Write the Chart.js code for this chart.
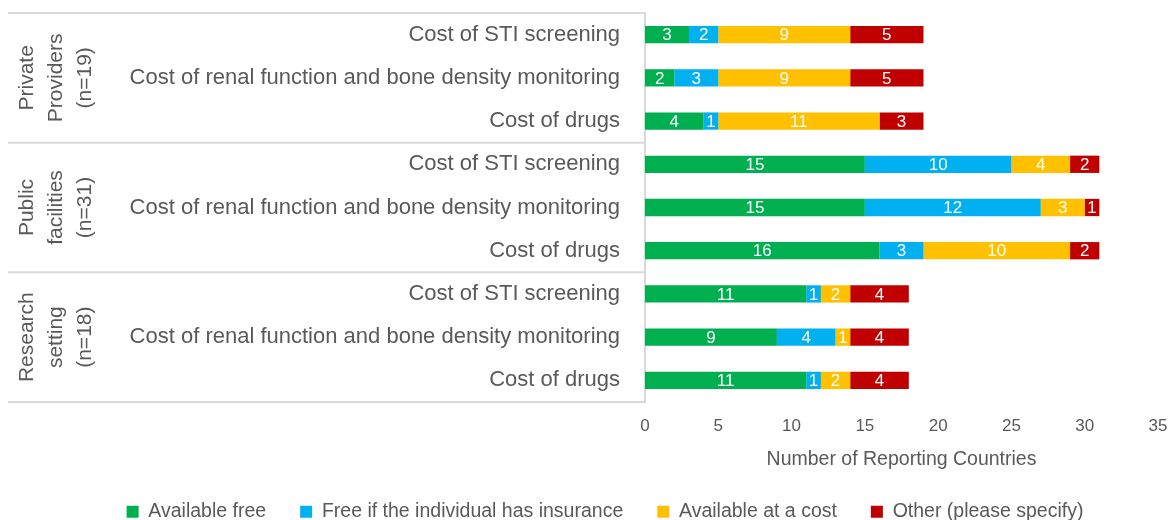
<!DOCTYPE html>
<html>
<head>
<meta charset="utf-8">
<script src="https://cdn.jsdelivr.net/npm/chart.js@4.4.1/dist/chart.umd.min.js"></script>
<style>
  html, body { margin: 0; padding: 0; background: #fff; }
</style>
</head>
<body>
<canvas id="canvas1" width="1168" height="520"></canvas>
<script>
var categories = [
  "Cost of STI screening",
  "Cost of renal function and bone density monitoring",
  "Cost of drugs",
  "Cost of STI screening",
  "Cost of renal function and bone density monitoring",
  "Cost of drugs",
  "Cost of STI screening",
  "Cost of renal function and bone density monitoring",
  "Cost of drugs"
];
var groups = [
  ["Private", "Providers", "(n=19)"],
  ["Public", "facilities", "(n=31)"],
  ["Research", "setting", "(n=18)"]
];
var groupSize = [3, 3, 3];

var availableFree = [3, 2, 4, 15, 15, 16, 11, 9, 11];
var freeInsurance = [2, 3, 1, 10, 12, 3, 1, 4, 1];
var availableCost = [9, 9, 11, 4, 3, 10, 2, 1, 2];
var otherSpecify = [5, 5, 3, 2, 1, 2, 4, 4, 4];

var xTicks = [0, 5, 10, 15, 20, 25, 30, 35];

var grey = "#595959";
var lineGrey = "#d9d9d9";
var FONT = "'Liberation Sans', Arial, sans-serif";

// white numbers inside each segment
var barLabels = {
  id: 'barLabels',
  afterDatasetsDraw: function(chart) {
    var ctx = chart.ctx;
    ctx.save();
    ctx.fillStyle = "#fff";
    ctx.font = "17px " + FONT;
    ctx.textAlign = "center";
    ctx.textBaseline = "middle";
    chart.data.datasets.forEach(function(ds, i) {
      chart.getDatasetMeta(i).data.forEach(function(bar, j) {
        var v = ds.data[j];
        if (!v) return;
        ctx.fillText(v, (bar.x + bar.base) / 2, bar.y + 1);
      });
    });
    ctx.restore();
  }
};

// group brackets and rotated group names on the left
var groupBox = {
  id: 'groupBox',
  afterDraw: function(chart) {
    var ctx = chart.ctx;
    var ys = chart.scales.y;
    var step = ys.getPixelForValue(1) - ys.getPixelForValue(0);
    var left = 8, right = chart.chartArea.left;
    ctx.save();
    ctx.strokeStyle = lineGrey;
    ctx.lineWidth = 2;
    var start = 0;
    var edges = [ys.getPixelForValue(0) - step / 2];
    groupSize.forEach(function(n) {
      start += n;
      edges.push(ys.getPixelForValue(start - 1) + step / 2);
    });
    edges.forEach(function(y) {
      ctx.beginPath();
      ctx.moveTo(left, y);
      ctx.lineTo(right, y);
      ctx.stroke();
    });
    ctx.fillStyle = grey;
    ctx.font = "21px " + FONT;
    ctx.textAlign = "center";
    ctx.textBaseline = "alphabetic";
    var baselines = [33, 62, 91];
    groups.forEach(function(lines, g) {
      var cy = (edges[g] + edges[g + 1]) / 2;
      lines.forEach(function(t, k) {
        ctx.save();
        ctx.translate(baselines[k], cy);
        ctx.rotate(-Math.PI / 2);
        ctx.fillText(t, 0, 0);
        ctx.restore();
      });
    });
    ctx.restore();
  }
};

new Chart(document.getElementById('canvas1'), {
  type: 'bar',
  data: {
    labels: categories,
    datasets: [
      { label: "Available free", data: availableFree, backgroundColor: "#00b050" },
      { label: "Free if the individual has insurance", data: freeInsurance, backgroundColor: "#00b0f0" },
      { label: "Available at a cost", data: availableCost, backgroundColor: "#ffc000" },
      { label: "Other (please specify)", data: otherSpecify, backgroundColor: "#c00000" }
    ]
  },
  options: {
    indexAxis: 'y',
    responsive: false,
    animation: false,
    barPercentage: 0.4,
    categoryPercentage: 1,
    layout: { padding: { left: 52, right: 10, top: 13, bottom: -11.5 } },
    plugins: {
      tooltip: { enabled: false },
      legend: {
        position: 'bottom',
        labels: {
          font: { family: FONT, size: 19.5 },
          color: grey,
          boxWidth: 12,
          boxHeight: 12,
          padding: 34
        }
      }
    },
    scales: {
      x: {
        stacked: true,
        min: 0,
        max: 35,
        afterBuildTicks: function(s) { s.ticks = xTicks.map(function(v) { return { value: v }; }); },
        grid: { display: false, drawTicks: false },
        border: { display: false },
        ticks: { color: grey, font: { family: FONT, size: 17 }, padding: 14 },
        title: {
          display: true,
          text: "Number of Reporting Countries",
          color: grey,
          font: { family: FONT, size: 19.5 },
          padding: { top: 4, bottom: -3.7 }
        },
        afterFit: function(s) {
          s.height = 66;
          s.paddingLeft = 0;
          s.paddingRight = 0;
        }
      },
      y: {
        stacked: true,
        grid: { display: false, drawTicks: false },
        border: { display: true, color: lineGrey, width: 2 },
        ticks: { color: grey, font: { family: FONT, size: 22 }, padding: 25, autoSkip: false },
        afterFit: function(s) {
          s.width = 645 - 52;
          s.paddingTop = 0;
          s.paddingBottom = 0;
        }
      }
    }
  },
  plugins: [barLabels, groupBox]
});
</script>
</body>
</html>
